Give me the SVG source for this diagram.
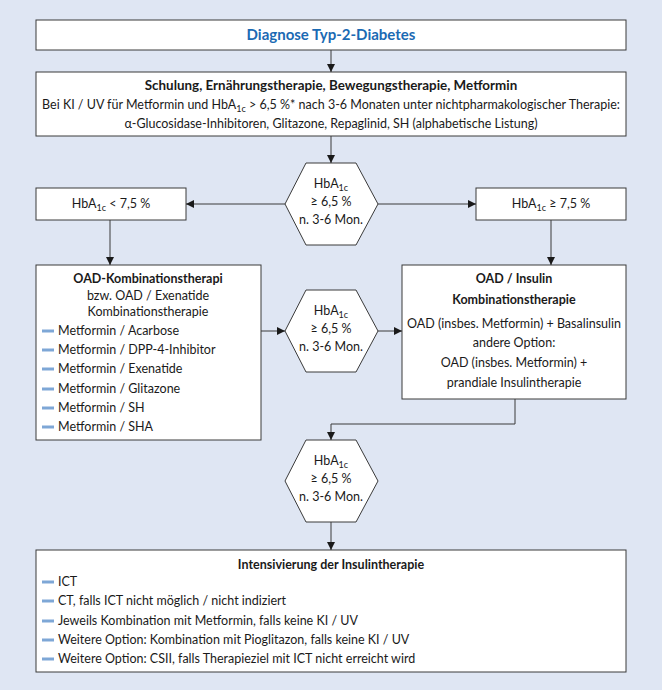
<svg xmlns="http://www.w3.org/2000/svg" width="662" height="690" viewBox="0 0 662 690">
<style>
text{font-family:Lato,"Liberation Sans",sans-serif;font-size:12.5px;fill:#1a1a1a}
.b{font-weight:bold}
.c{text-anchor:middle}
.title{font-size:15px;font-weight:bold;fill:#1b6ab3}
.hd{font-size:13.4px}
.box{fill:#fff;stroke:#3a3a3a;stroke-width:1}
.con{fill:none;stroke:#3a3a3a;stroke-width:1;marker-end:url(#ah)}
.bul{stroke:#7ea7d6;stroke-width:3}
.sub{font-size:9px}
</style>
<defs>
<marker id="ah" viewBox="0 0 10 10" refX="10" refY="5" markerWidth="8" markerHeight="8" markerUnits="userSpaceOnUse" orient="auto">
<path d="M0,0 L10,5 L0,10 z" fill="#1a1a1a"/>
</marker>
</defs>
<rect width="662" height="690" fill="#dfe6f3"/>

<g id="diagnose">
<rect class="box" x="36" y="20" width="590" height="30"/>
<text class="title c" x="331" y="40">Diagnose Typ-2-Diabetes</text>
</g>

<g id="schulung">
<rect class="box" x="36" y="72" width="590" height="64"/>
<text class="b c hd" x="331" y="90">Schulung, Ernährungstherapie, Bewegungstherapie, Metformin</text>
<text class="c" x="331" y="109">Bei KI / UV für Metformin und HbA<tspan class="sub" dy="3">1c</tspan><tspan dy="-3"> &gt; 6,5 %* nach 3-6 Monaten unter nichtpharmakologischer Therapie:</tspan></text>
<text class="c" x="331" y="128">α-Glucosidase-Inhibitoren, Glitazone, Repaglinid, SH (alphabetische Listung)</text>
</g>

<g id="hex1">
<polygon class="box" points="306,163 356,163 378,204 356,245 306,245 285,204"/>
<text class="c" x="331" y="188">HbA<tspan class="sub" dy="3">1c</tspan></text>
<text class="c" x="331" y="206">≥ 6,5 %</text>
<text class="c" x="331" y="224">n. 3-6 Mon.</text>
</g>

<g id="lt75">
<rect class="box" x="36" y="188" width="150" height="32"/>
<text class="c" x="111" y="208">HbA<tspan class="sub" dy="3">1c</tspan><tspan dy="-3"> &lt; 7,5 %</tspan></text>
</g>

<g id="ge75">
<rect class="box" x="476" y="188" width="150" height="32"/>
<text class="c" x="551" y="208">HbA<tspan class="sub" dy="3">1c</tspan><tspan dy="-3"> ≥ 7,5 %</tspan></text>
</g>

<g id="oadkombi">
<rect class="box" x="36" y="265" width="225" height="175"/>
<text class="b c" x="148" y="283">OAD-Kombinationstherapi</text>
<text class="c" x="148" y="300">bzw. OAD / Exenatide</text>
<text class="c" x="148" y="316">Kombinationstherapie</text>
<line class="bul" x1="42" y1="331" x2="54" y2="331"/>
<text x="58" y="335">Metformin / Acarbose</text>
<line class="bul" x1="42" y1="350" x2="54" y2="350"/>
<text x="58" y="354">Metformin / DPP-4-Inhibitor</text>
<line class="bul" x1="42" y1="369" x2="54" y2="369"/>
<text x="58" y="373">Metformin / Exenatide</text>
<line class="bul" x1="42" y1="389" x2="54" y2="389"/>
<text x="58" y="393">Metformin / Glitazone</text>
<line class="bul" x1="42" y1="408" x2="54" y2="408"/>
<text x="58" y="412">Metformin / SH</text>
<line class="bul" x1="42" y1="427" x2="54" y2="427"/>
<text x="58" y="431">Metformin / SHA</text>
</g>

<g id="hex2">
<polygon class="box" points="306,290 356,290 378,331 356,372 306,372 285,331"/>
<text class="c" x="331" y="315">HbA<tspan class="sub" dy="3">1c</tspan></text>
<text class="c" x="331" y="333">≥ 6,5 %</text>
<text class="c" x="331" y="351">n. 3-6 Mon.</text>
</g>

<g id="insulinkombi">
<rect class="box" x="402" y="265" width="224" height="134"/>
<text class="b c" x="514" y="283">OAD / Insulin</text>
<text class="b c" x="514" y="304">Kombinationstherapie</text>
<text class="c" x="514" y="328">OAD (insbes. Metformin) + Basalinsulin</text>
<text class="c" x="514" y="347">andere Option:</text>
<text class="c" x="514" y="367">OAD (insbes. Metformin) +</text>
<text class="c" x="514" y="387">prandiale Insulintherapie</text>
</g>

<g id="hex3">
<polygon class="box" points="306,440 356,440 378,481 356,522 306,522 285,481"/>
<text class="c" x="331" y="465">HbA<tspan class="sub" dy="3">1c</tspan></text>
<text class="c" x="331" y="483">≥ 6,5 %</text>
<text class="c" x="331" y="501">n. 3-6 Mon.</text>
</g>

<g id="intensivierung">
<rect class="box" x="36" y="550" width="590" height="122"/>
<text class="b c" x="331" y="569">Intensivierung der Insulintherapie</text>
<line class="bul" x1="42" y1="582" x2="54" y2="582"/>
<text x="58" y="586">ICT</text>
<line class="bul" x1="42" y1="601" x2="54" y2="601"/>
<text x="58" y="605">CT, falls ICT nicht möglich / nicht indiziert</text>
<line class="bul" x1="42" y1="621" x2="54" y2="621"/>
<text x="58" y="625">Jeweils Kombination mit Metformin, falls keine KI / UV</text>
<line class="bul" x1="42" y1="640" x2="54" y2="640"/>
<text x="58" y="644">Weitere Option: Kombination mit Pioglitazon, falls keine KI / UV</text>
<line class="bul" x1="42" y1="659" x2="54" y2="659"/>
<text x="58" y="663">Weitere Option: CSII, falls Therapieziel mit ICT nicht erreicht wird</text>
</g>

<g id="connectors">
<path class="con" d="M331,50 V72"/>
<path class="con" d="M331,136 V163"/>
<path class="con" d="M285,204 H186"/>
<path class="con" d="M378,204 H476"/>
<path class="con" d="M110,220 V265"/>
<path class="con" d="M551,220 V265"/>
<path class="con" d="M261,331 H285"/>
<path class="con" d="M378,331 H402"/>
<path class="con" d="M515,399 V424 H331 V440"/>
<path class="con" d="M331,522 V550"/>
</g>
</svg>
